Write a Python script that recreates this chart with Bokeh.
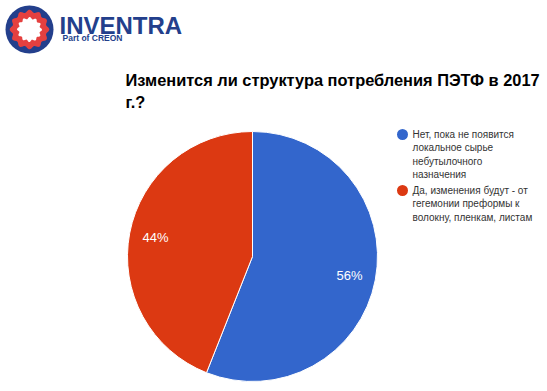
import numpy as np
from bokeh.plotting import figure
from bokeh.models import Range1d, ColumnDataSource
from bokeh.core.properties import value
from bokeh.embed import file_html
from bokeh.resources import INLINE

# ---- data ----
categories = ["Нет, пока не появится локальное сырье небутылочного назначения",
              "Да, изменения будут - от гегемонии преформы к волокну, пленкам, листам"]
legend_lines = [["Нет, пока не появится", "локальное сырье", "небутылочного", "назначения"],
                ["Да, изменения будут - от", "гегемонии преформы к", "волокну, пленкам, листам"]]
shares = [56, 44]
colors = ["#3366cc", "#dc3912"]
title_lines = ["Изменится ли структура потребления ПЭТФ в 2017", "г.?"]

W, H = 545, 389
def fx(px): return px
def fy(py): return H - py

p = figure(width=W, height=H, x_range=Range1d(0, W), y_range=Range1d(0, H),
           output_backend="svg", toolbar_location=None, min_border=0)
p.axis.visible = False
p.grid.visible = False
p.outline_line_color = None
p.background_fill_color = "white"

# ---- pie ----
cx, cy, r = fx(252), fy(256), 125
frac = np.array(shares) / sum(shares)
ends = np.cumsum(frac) * 2 * np.pi
starts = ends - frac * 2 * np.pi
src = ColumnDataSource(dict(start=np.pi / 2 - starts, end=np.pi / 2 - ends, color=colors))
p.wedge(x=cx, y=cy, radius=r, start_angle="start", end_angle="end", direction="clock",
        fill_color="color", line_color="white", line_width=1, source=src)

mids = (starts + ends) / 2
lr = 0.79 * r
lab = ColumnDataSource(dict(x=cx + lr * np.sin(mids), y=cy + lr * np.cos(mids),
                            t=[f"{s}%" for s in shares]))
p.text(x="x", y="y", text="t", source=lab, text_color="white", text_font=value("Liberation Sans"),
       text_font_size="13px", text_align="center", text_baseline="middle")

# ---- title ----
for i, line in enumerate(title_lines):
    p.text(x=[fx(125)], y=[fy(79 + 22 * i)], text=[line], text_font=value("Liberation Sans"),
           text_font_style="bold", text_font_size="16.4px", text_color="#000000",
           text_baseline="middle")

# ---- legend ----
ly = [134, 190]
for k, lines in enumerate(legend_lines):
    p.scatter(x=[fx(402)], y=[fy(ly[k])], size=11, marker="circle", fill_color=colors[k], line_color=None)
    for j, t in enumerate(lines):
        p.text(x=[fx(412)], y=[fy(ly[k] + 13.3 * j)], text=[t], text_font=value("Liberation Sans"),
               text_font_size="10px", text_color="#333333", text_baseline="middle")

# ---- logo ----
lx, lyy = fx(29), fy(29)
p.circle(x=lx, y=lyy, radius=24, fill_color="#233f8c", line_color=None)
t = np.linspace(0, 2 * np.pi, 240)
outer = 18.5 + 1.3 * np.cos(12 * t)
p.patch(x=lx + outer * np.cos(t), y=lyy + outer * np.sin(t), fill_color="#e5403f", line_color=None)
inner = 11.5 + 1.0 * np.cos(12 * t + np.pi / 12 * 12 / 12)
p.patch(x=lx + inner * np.cos(t), y=lyy + inner * np.sin(t), fill_color="white", line_color=None)
p.text(x=[fx(59)], y=[fy(25)], text=["INVENTRA"], text_font=value("Liberation Sans"), text_font_style="bold",
       text_font_size="24px", text_color="#233f8c", text_baseline="middle")
p.text(x=[fx(62)], y=[fy(37)], text=["Part of CREON"], text_font=value("Liberation Sans"), text_font_style="bold",
       text_font_size="8.5px", text_color="#233f8c", text_baseline="middle")

open("out.html", "w").write(file_html(p, INLINE))
